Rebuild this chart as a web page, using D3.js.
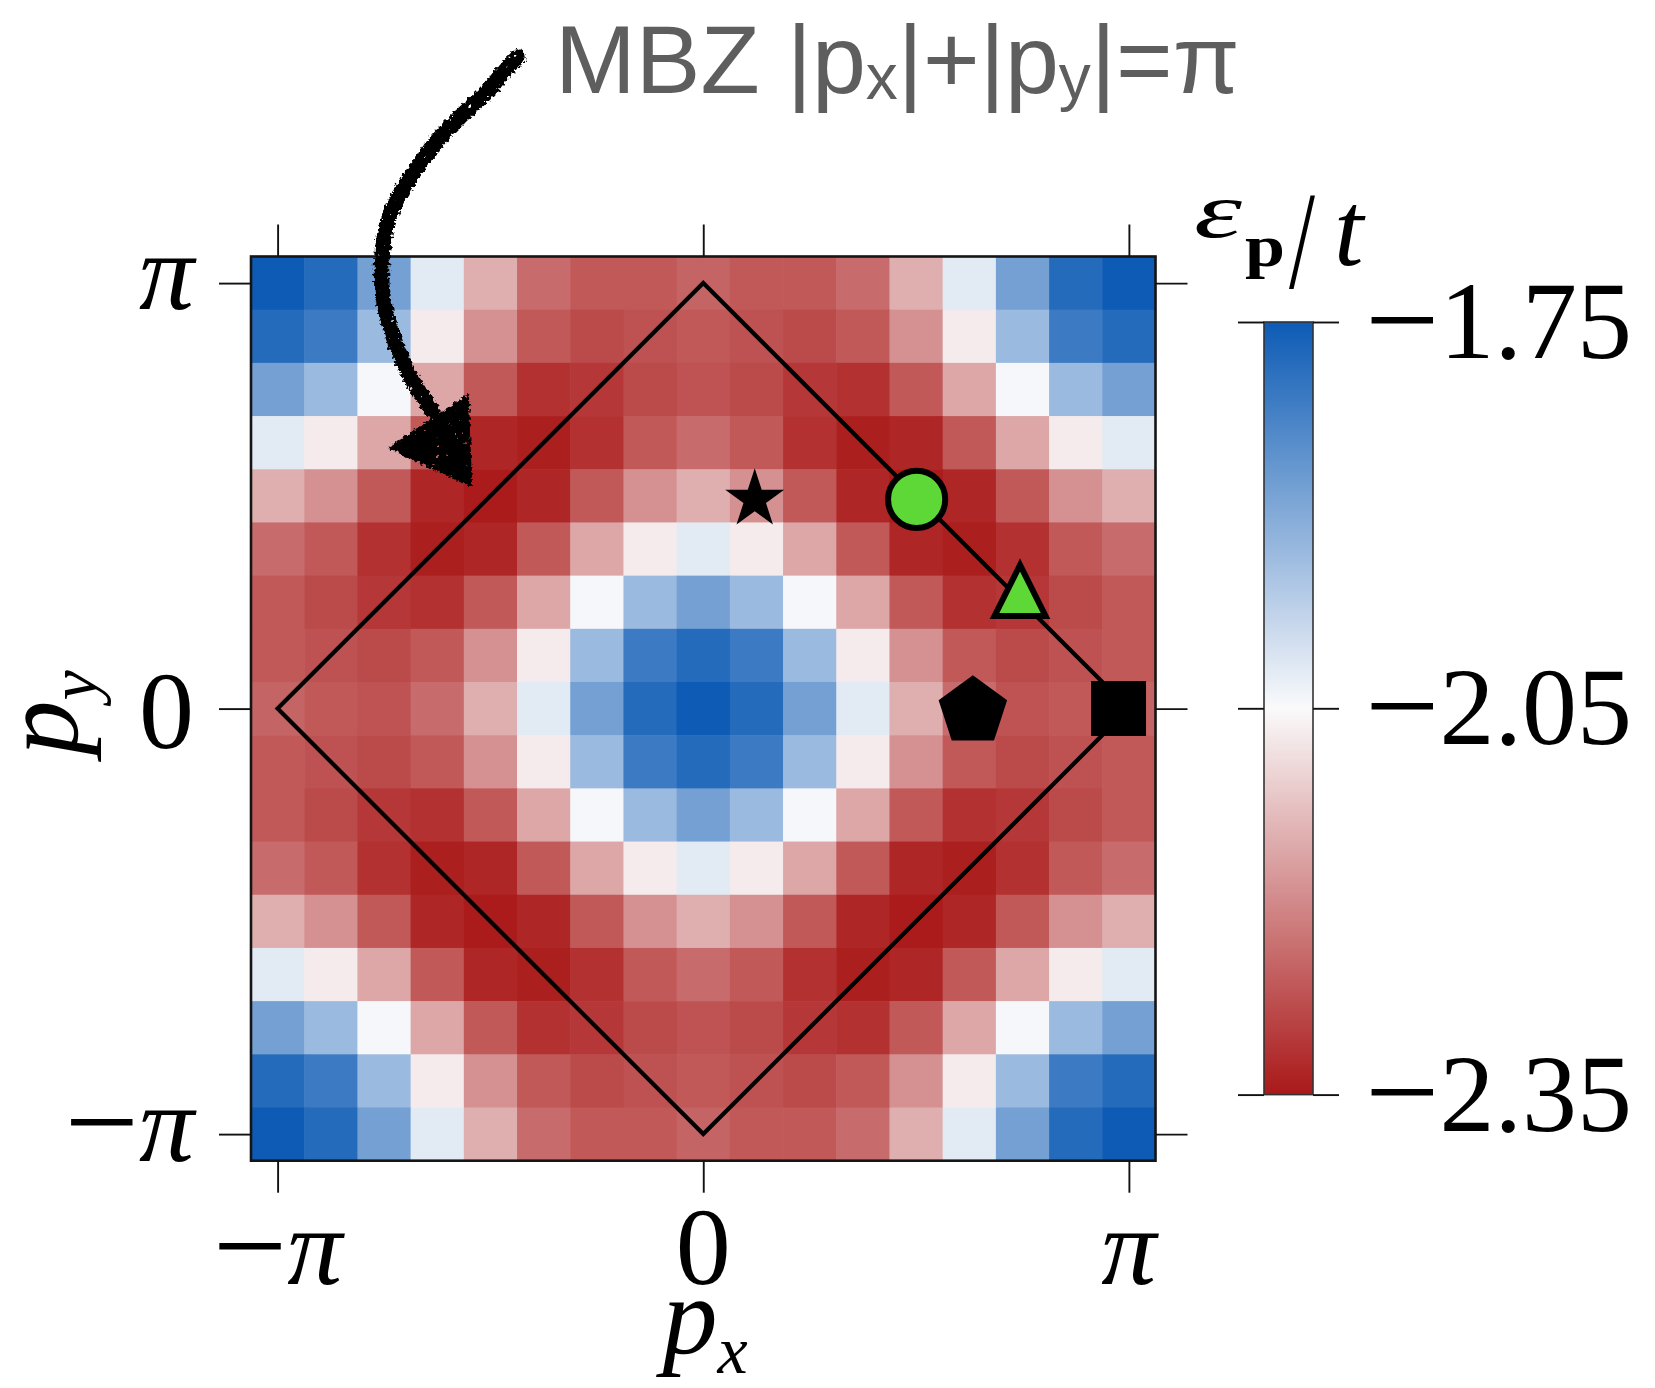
<!DOCTYPE html>
<html>
<head>
<meta charset="utf-8">
<script src="https://cdn.jsdelivr.net/npm/d3@7"></script>
<style>
  html, body { margin: 0; padding: 0; background: #ffffff; }
  svg { display: block; }
</style>
</head>
<body>
<svg id="chart" width="1655" height="1388"></svg>
<script>
const PI = Math.PI;

// Momentum grid: 17 x 17 points from -pi to pi in steps of pi/8
const momentumTicks = [-PI, 0, PI];
const momentumTickLabels = ["−π", "0", "π"];

// Dispersion eps_p / t, rows from p_y = +pi (top) down to p_y = -pi, columns p_x = -pi .. +pi
const energy = [
  [-1.750,-1.780,-1.880,-2.020,-2.150,-2.240,-2.265,-2.265,-2.250,-2.265,-2.265,-2.240,-2.150,-2.020,-1.880,-1.780,-1.750],
  [-1.780,-1.810,-1.930,-2.070,-2.190,-2.265,-2.285,-2.275,-2.265,-2.275,-2.285,-2.265,-2.190,-2.070,-1.930,-1.810,-1.780],
  [-1.880,-1.930,-2.045,-2.160,-2.265,-2.318,-2.310,-2.285,-2.273,-2.285,-2.310,-2.318,-2.265,-2.160,-2.045,-1.930,-1.880],
  [-2.020,-2.070,-2.160,-2.265,-2.333,-2.342,-2.318,-2.265,-2.240,-2.265,-2.318,-2.342,-2.333,-2.265,-2.160,-2.070,-2.020],
  [-2.150,-2.190,-2.265,-2.333,-2.347,-2.333,-2.265,-2.190,-2.150,-2.190,-2.265,-2.333,-2.347,-2.333,-2.265,-2.190,-2.150],
  [-2.240,-2.265,-2.318,-2.342,-2.333,-2.265,-2.160,-2.070,-2.020,-2.070,-2.160,-2.265,-2.333,-2.342,-2.318,-2.265,-2.240],
  [-2.265,-2.285,-2.310,-2.318,-2.265,-2.160,-2.045,-1.930,-1.880,-1.930,-2.045,-2.160,-2.265,-2.318,-2.310,-2.285,-2.265],
  [-2.265,-2.275,-2.285,-2.265,-2.190,-2.070,-1.930,-1.810,-1.780,-1.810,-1.930,-2.070,-2.190,-2.265,-2.285,-2.275,-2.265],
  [-2.250,-2.265,-2.273,-2.240,-2.150,-2.020,-1.880,-1.780,-1.750,-1.780,-1.880,-2.020,-2.150,-2.240,-2.273,-2.265,-2.250],
  [-2.265,-2.275,-2.285,-2.265,-2.190,-2.070,-1.930,-1.810,-1.780,-1.810,-1.930,-2.070,-2.190,-2.265,-2.285,-2.275,-2.265],
  [-2.265,-2.285,-2.310,-2.318,-2.265,-2.160,-2.045,-1.930,-1.880,-1.930,-2.045,-2.160,-2.265,-2.318,-2.310,-2.285,-2.265],
  [-2.240,-2.265,-2.318,-2.342,-2.333,-2.265,-2.160,-2.070,-2.020,-2.070,-2.160,-2.265,-2.333,-2.342,-2.318,-2.265,-2.240],
  [-2.150,-2.190,-2.265,-2.333,-2.347,-2.333,-2.265,-2.190,-2.150,-2.190,-2.265,-2.333,-2.347,-2.333,-2.265,-2.190,-2.150],
  [-2.020,-2.070,-2.160,-2.265,-2.333,-2.342,-2.318,-2.265,-2.240,-2.265,-2.318,-2.342,-2.333,-2.265,-2.160,-2.070,-2.020],
  [-1.880,-1.930,-2.045,-2.160,-2.265,-2.318,-2.310,-2.285,-2.273,-2.285,-2.310,-2.318,-2.265,-2.160,-2.045,-1.930,-1.880],
  [-1.780,-1.810,-1.930,-2.070,-2.190,-2.265,-2.285,-2.275,-2.265,-2.275,-2.285,-2.265,-2.190,-2.070,-1.930,-1.810,-1.780],
  [-1.750,-1.780,-1.880,-2.020,-2.150,-2.240,-2.265,-2.265,-2.250,-2.265,-2.265,-2.240,-2.150,-2.020,-1.880,-1.780,-1.750]
];

// Colour bar
const energyRange = [-2.35, -2.05, -1.75];
const colorbarTicks = [-1.75, -2.05, -2.35];
const colorbarTickLabels = ["−1.75", "−2.05", "−2.35"];

// Magnetic Brillouin zone boundary |px|+|py| = pi
const mbzCorners = [[-PI, 0], [0, PI], [PI, 0], [0, -PI]];

// Highlighted momenta
const markerShapes = ["star", "circle", "triangle", "pentagon", "square"];
const markerPx = [0.38, 1.575, 2.338, 1.99, 3.065];
const markerPy = [1.545, 1.545, 0.872, -0.02, 0];

// ---------------------------------------------------------------------------
const plot = { left: 251, top: 256.5, right: 1155.5, bottom: 1160.7 };
const cbar = { left: 1264, width: 49, top: 322, bottom: 1094.6 };
const serif = "'Liberation Serif', 'Times New Roman', serif";
const sans = "'Liberation Sans', Arial, Helvetica, sans-serif";
const LABEL_SIZE = 110;

const step = PI / 8;
const half = PI + step / 2;

const svg = d3.select("#chart");
const defs = svg.append("defs");

const x = d3.scaleLinear().domain([-half, half]).range([plot.left, plot.right]);
const y = d3.scaleLinear().domain([half, -half]).range([plot.top, plot.bottom]);
const color = d3.scaleLinear()
  .domain(energyRange)
  .range(["#aa1919", "#fafafb", "#0d5bb5"])
  .clamp(true);

// ---- heat map cells ----
const cells = [];
energy.forEach((row, r) => row.forEach((v, c) => {
  cells.push({ px: -PI + c * step, py: PI - r * step, v });
}));
const cw = x(step) - x(0), ch = y(0) - y(step);
svg.append("g")
  .selectAll("rect")
  .data(cells)
  .join("rect")
  .attr("x", d => x(d.px - step / 2))
  .attr("y", d => y(d.py + step / 2))
  .attr("width", cw + 0.6)
  .attr("height", ch + 0.6)
  .attr("fill", d => color(d.v));

// ---- MBZ diamond ----
const diamond = d3.line().x(d => x(d[0])).y(d => y(d[1]));
svg.append("path")
  .attr("d", diamond(mbzCorners) + "Z")
  .attr("fill", "none")
  .attr("stroke", "#000")
  .attr("stroke-width", 4.2)
  .attr("stroke-linejoin", "miter");

// ---- markers ----
function polygonPath(n, rOuter, rInner) {
  const pts = [];
  const k = rInner ? 2 * n : n;
  for (let i = 0; i < k; i++) {
    const a = -PI / 2 + i * 2 * PI / k;
    const r = rInner && (i % 2) ? rInner : rOuter;
    pts.push([r * Math.cos(a), r * Math.sin(a)]);
  }
  return "M" + pts.map(p => p.join(",")).join("L") + "Z";
}
const markerStyle = {
  star:     { d: polygonPath(5, 31, 31 * 0.382), fill: "#000", stroke: "none", sw: 0 },
  circle:   { d: d3.symbol(d3.symbolCircle, PI * 28.6 * 28.6)(), fill: "#5ed836", stroke: "#000", sw: 6 },
  triangle: { d: "M0,-25.5L-25.5,25.5L25.5,25.5Z", fill: "#5ed836", stroke: "#000", sw: 6 },
  pentagon: { d: polygonPath(5, 36), fill: "#000", stroke: "none", sw: 0 },
  square:   { d: "M-27.5,-27.5H27.5V27.5H-27.5Z", fill: "#000", stroke: "none", sw: 0 }
};
const markerData = markerShapes.map((s, i) => ({ shape: s, px: markerPx[i], py: markerPy[i] }));
svg.append("g")
  .selectAll("path")
  .data(markerData)
  .join("path")
  .attr("transform", d => `translate(${x(d.px)},${y(d.py)})`)
  .attr("d", d => markerStyle[d.shape].d)
  .attr("fill", d => markerStyle[d.shape].fill)
  .attr("stroke", d => markerStyle[d.shape].stroke)
  .attr("stroke-width", d => markerStyle[d.shape].sw)
  .attr("stroke-linejoin", "miter");

// ---- frame and ticks ----
svg.append("rect")
  .attr("x", plot.left).attr("y", plot.top)
  .attr("width", plot.right - plot.left).attr("height", plot.bottom - plot.top)
  .attr("fill", "none").attr("stroke", "#151515").attr("stroke-width", 2.6);

function styleAxis(g) {
  g.select(".domain").remove();
  g.selectAll(".tick line").attr("stroke", "#111").attr("stroke-width", 1.9);
  g.selectAll(".tick text").remove();
}
const TICK = 32;
svg.append("g").attr("transform", `translate(0,${plot.bottom})`)
  .call(d3.axisBottom(x).tickValues(momentumTicks).tickSize(TICK).tickFormat("")).call(styleAxis);
svg.append("g").attr("transform", `translate(0,${plot.top})`)
  .call(d3.axisTop(x).tickValues(momentumTicks).tickSize(TICK).tickFormat("")).call(styleAxis);
svg.append("g").attr("transform", `translate(${plot.left},0)`)
  .call(d3.axisLeft(y).tickValues(momentumTicks).tickSize(TICK).tickFormat("")).call(styleAxis);
svg.append("g").attr("transform", `translate(${plot.right},0)`)
  .call(d3.axisRight(y).tickValues(momentumTicks).tickSize(TICK).tickFormat("")).call(styleAxis);

// math-style label: long minus, italic pi
function mathText(sel, str, size) {
  sel.attr("font-family", serif).attr("font-size", size).attr("fill", "#000");
  let rest = str;
  let shift = 0;
  if (rest.startsWith("−")) {
    shift = size * 0.05;
    sel.append("tspan").attr("font-size", size * 1.2).attr("dy", shift).text("−");
    rest = rest.slice(1);
  }
  const t = sel.append("tspan").attr("dy", -shift).text(rest);
  if (rest === "π") t.attr("font-style", "italic");
}

// x tick labels
momentumTicks.forEach((v, i) => {
  svg.append("text")
    .attr("x", x(v)).attr("y", 1284)
    .attr("text-anchor", "middle")
    .call(mathText, momentumTickLabels[i], LABEL_SIZE);
});
// y tick labels
momentumTicks.forEach((v, i) => {
  const lab = momentumTickLabels[i];
  const off = /\d/.test(lab) ? 0.36 : 0.24;
  svg.append("text")
    .attr("x", 194).attr("y", y(v) + off * LABEL_SIZE)
    .attr("text-anchor", "end")
    .call(mathText, lab, LABEL_SIZE);
});

// axis titles
const pxTitle = svg.append("text")
  .attr("x", 705).attr("y", 1354).attr("text-anchor", "middle")
  .attr("font-family", serif).attr("font-style", "italic").attr("font-size", LABEL_SIZE);
pxTitle.append("tspan").text("p");
pxTitle.append("tspan").attr("font-size", 68).attr("dy", 19).text("x");

const pyTitle = svg.append("text")
  .attr("transform", "translate(78,713) rotate(-90)")
  .attr("text-anchor", "middle")
  .attr("font-family", serif).attr("font-style", "italic").attr("font-size", LABEL_SIZE);
pyTitle.append("tspan").text("p");
pyTitle.append("tspan").attr("font-size", 68).attr("dy", 19).text("y");

// ---- colour bar ----
const cbY = d3.scaleLinear().domain([energyRange[0], energyRange[2]]).range([cbar.bottom, cbar.top]);
const grad = defs.append("linearGradient").attr("id", "cbgrad")
  .attr("x1", 0).attr("y1", 1).attr("x2", 0).attr("y2", 0);
d3.range(0, 1.0001, 0.05).forEach(t => {
  grad.append("stop").attr("offset", t)
    .attr("stop-color", color(energyRange[0] + t * (energyRange[2] - energyRange[0])));
});
svg.append("rect")
  .attr("x", cbar.left).attr("y", cbar.top)
  .attr("width", cbar.width).attr("height", cbar.bottom - cbar.top)
  .attr("fill", "url(#cbgrad)")
  .attr("stroke", "#333").attr("stroke-width", 1.6);

svg.append("g").attr("transform", `translate(${cbar.left},0)`)
  .call(d3.axisLeft(cbY).tickValues(colorbarTicks).tickSize(26).tickFormat("")).call(styleAxis);
svg.append("g").attr("transform", `translate(${cbar.left + cbar.width},0)`)
  .call(d3.axisRight(cbY).tickValues(colorbarTicks).tickSize(26).tickFormat("")).call(styleAxis);

colorbarTicks.forEach((v, i) => {
  svg.append("text")
    .attr("x", 1365).attr("y", cbY(v) + 36)
    .attr("text-anchor", "start")
    .call(mathText, colorbarTickLabels[i], LABEL_SIZE);
});

// colour bar title  eps_p / t
const cbTitle = svg.append("g").attr("font-family", serif).attr("fill", "#000");
cbTitle.append("text").attr("x", 1194).attr("y", 237)
  .attr("font-style", "italic").attr("font-size", 78)
  .attr("textLength", 48).attr("lengthAdjust", "spacingAndGlyphs").text("ε");
cbTitle.append("text").attr("x", 1245).attr("y", 266)
  .attr("font-weight", "bold").attr("font-size", 60)
  .attr("textLength", 40).attr("lengthAdjust", "spacingAndGlyphs").text("p");
cbTitle.append("text").attr("x", 1289).attr("y", 288)
  .attr("font-size", 140).attr("textLength", 26).attr("lengthAdjust", "spacingAndGlyphs").text("/");
cbTitle.append("text").attr("x", 1334).attr("y", 265)
  .attr("font-style", "italic").attr("font-size", 106).text("t");

// ---- annotation ----
const note = svg.append("text")
  .attr("x", 555).attr("y", 92.5)
  .attr("font-family", sans).attr("font-size", 97).attr("fill", "#5e5e5e");
note.append("tspan").text("MBZ |p");
note.append("tspan").attr("font-size", 64).attr("dy", 6).text("x");
note.append("tspan").attr("dy", -6).text("|+|p");
note.append("tspan").attr("font-size", 64).attr("dy", 6).text("y");
note.append("tspan").attr("dy", -6).text("|=π");

// hand-drawn arrow pointing at the MBZ boundary: ragged edges and a few ink gaps
const rough = defs.append("filter").attr("id", "rough")
  .attr("x", "-20%").attr("y", "-20%").attr("width", "140%").attr("height", "140%");
rough.append("feTurbulence").attr("type", "fractalNoise").attr("baseFrequency", 0.3)
  .attr("numOctaves", 2).attr("seed", 3).attr("result", "noise");
rough.append("feDisplacementMap").attr("in", "SourceGraphic").attr("in2", "noise")
  .attr("scale", 7).attr("xChannelSelector", "R").attr("yChannelSelector", "G").attr("result", "ragged");
rough.append("feTurbulence").attr("type", "fractalNoise").attr("baseFrequency", 0.22)
  .attr("numOctaves", 2).attr("seed", 11).attr("result", "speck");
rough.append("feColorMatrix").attr("in", "speck").attr("type", "matrix")
  .attr("values", "0 0 0 0 0  0 0 0 0 0  0 0 0 0 0  22 0 0 0 -16.6").attr("result", "holes");
rough.append("feComposite").attr("in", "ragged").attr("in2", "holes").attr("operator", "out");

const arrowShaft = [[518,57],[505,70],[487,92],[460,117],[437,141],[414,172],[398,198],
  [387,225],[382,257],[383,297],[391,330],[403,362],[418,390],[432,410]];
const arrowHead = [[467,397],[391,448],[470,484]];
const arrow = svg.append("g").attr("filter", "url(#rough)");
arrow.append("path")
  .attr("d", d3.line().curve(d3.curveCatmullRom)(arrowShaft))
  .attr("fill", "none").attr("stroke", "#000").attr("stroke-width", 15.5)
  .attr("stroke-linecap", "round");
arrow.append("path")
  .attr("d", "M" + arrowHead.join("L") + "Z")
  .attr("fill", "#000").attr("stroke", "#000").attr("stroke-width", 4)
  .attr("stroke-linejoin", "round");
</script>
</body>
</html>
